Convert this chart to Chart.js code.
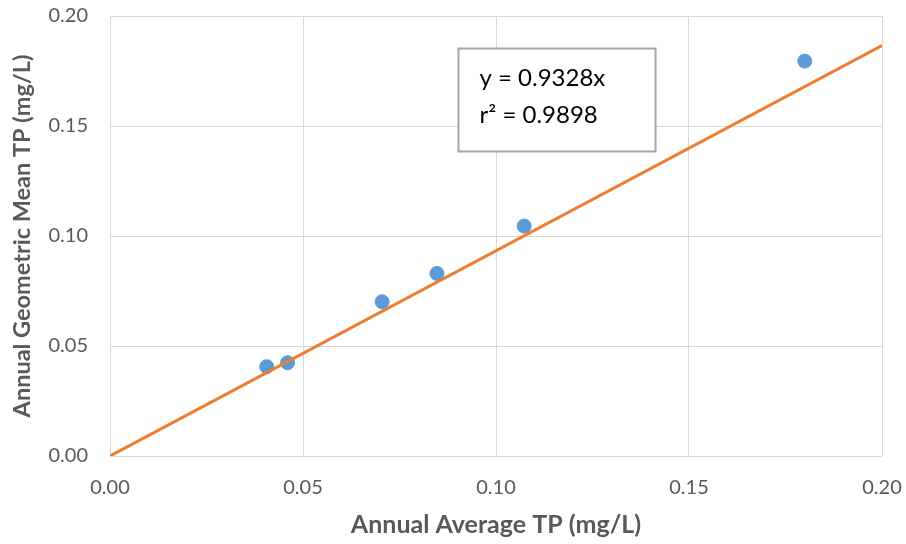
<!DOCTYPE html>
<html>
<head>
<meta charset="utf-8">
<script src="https://cdn.jsdelivr.net/npm/chart.js@4/dist/chart.umd.min.js"></script>
<style>
  html, body { margin: 0; padding: 0; background: #fff; }
  #wrap { width: 906px; height: 544px; }
</style>
</head>
<body>
<div id="wrap"><canvas id="c" width="906" height="544"></canvas></div>
<script>
// observed points
const avgTP = [0.0406, 0.0460, 0.0705, 0.0847, 0.1073, 0.1800];
const geoMeanTP = [0.0406, 0.0424, 0.0701, 0.0830, 0.1045, 0.1795];

// trendline end points (y = 0.9328x)
const trendX = [0, 0.20];
const trendY = [0, 0.1866];

const xTicks = [0, 0.05, 0.10, 0.15, 0.20];
const yTicks = [0, 0.05, 0.10, 0.15, 0.20];

const eqLines = ['y = 0.9328x', 'r² = 0.9898'];

const FONT = 'Lato, "Open Sans", sans-serif';
const GREY = '#595959';

// equation box drawn on top of the plot
const eqBox = {
    id: 'eqBox',
    afterDatasetsDraw(chart) {
        const ctx = chart.ctx;
        const x = chart.scales.x, y = chart.scales.y;
        const left = Math.round(x.getPixelForValue(0.0902)) + 0.5;
        const right = Math.round(x.getPixelForValue(0.1412)) + 0.5;
        const top = Math.round(y.getPixelForValue(0.1855)) + 0.5;
        const bottom = Math.round(y.getPixelForValue(0.1386)) + 0.5;
        ctx.save();
        ctx.fillStyle = '#fff';
        ctx.fillRect(left, top, right - left, bottom - top);
        ctx.strokeStyle = '#a6a6a6';
        ctx.lineWidth = 2;
        ctx.strokeRect(left, top, right - left, bottom - top);
        ctx.fillStyle = '#000';
        ctx.font = '24px ' + FONT;
        ctx.textBaseline = 'alphabetic';
        ctx.fillText(eqLines[0], left + 21, top + 37);
        ctx.fillText(eqLines[1], left + 21, top + 74);
        ctx.restore();
    }
};

function noPad(s) {
    s.paddingLeft = 0; s.paddingRight = 0;
    s.paddingTop = 0; s.paddingBottom = 0;
}

new Chart(document.getElementById('c'), {
    type: 'scatter',
    data: {
        datasets: [{
            label: 'TP',
            data: avgTP.map((v, i) => ({ x: v, y: geoMeanTP[i] })),
            backgroundColor: '#5b9bd5',
            borderColor: '#5b9bd5',
            pointRadius: 7,
            pointHoverRadius: 7,
            order: 2
        }, {
            type: 'line',
            label: 'Trend',
            data: trendX.map((v, i) => ({ x: v, y: trendY[i] })),
            borderColor: '#ed7d31',
            borderWidth: 3,
            pointRadius: 0,
            fill: false,
            order: 1
        }]
    },
    options: {
        responsive: false,
        animation: false,
        layout: { padding: { top: 16, right: 24, left: 0, bottom: 0 } },
        plugins: {
            legend: { display: false },
            tooltip: { enabled: false }
        },
        scales: {
            x: {
                type: 'linear',
                min: 0, max: 0.2,
                afterBuildTicks: s => { s.ticks = xTicks.map(v => ({ value: v })); },
                afterFit: s => { s.height = 88; noPad(s); },
                border: { display: false },
                grid: { color: '#d9d9d9', drawTicks: false },
                ticks: {
                    padding: 20,
                    color: GREY,
                    font: { family: FONT, size: 20 },
                    callback: v => v.toFixed(2)
                },
                title: {
                    display: true,
                    text: 'Annual Average TP (mg/L)',
                    color: GREY,
                    font: { family: FONT, size: 25, weight: 'bold' },
                    padding: { top: 4, bottom: 4 }
                }
            },
            y: {
                type: 'linear',
                min: 0, max: 0.2,
                afterBuildTicks: s => { s.ticks = yTicks.map(v => ({ value: v })); },
                afterFit: s => { s.width = 110; noPad(s); },
                border: { display: false },
                grid: { color: '#d9d9d9', drawTicks: false },
                ticks: {
                    padding: 22,
                    color: GREY,
                    font: { family: FONT, size: 20 },
                    callback: v => v.toFixed(2)
                },
                title: {
                    display: true,
                    text: 'Annual Geometric Mean TP (mg/L)',
                    color: GREY,
                    font: { family: FONT, size: 23.5, weight: 'bold' },
                    padding: { top: 8, bottom: 4 }
                }
            }
        }
    },
    plugins: [eqBox]
});
</script>
</body>
</html>
